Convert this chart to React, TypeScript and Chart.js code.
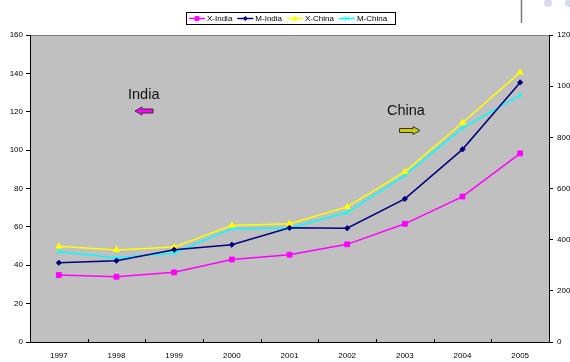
import React, { useEffect, useRef } from "react";
import { Chart, registerables } from "chart.js";

Chart.register(...registerables);

// Years on the category axis
const years = ["1997", "1998", "1999", "2000", "2001", "2002", "2003", "2004", "2005"];

// India series, read against the left axis
const exportsIndia = [34.9, 34.0, 36.3, 43.0, 45.5, 50.9, 61.6, 75.8, 98.3];
const importsIndia = [41.3, 42.4, 48.1, 50.7, 59.5, 59.3, 74.6, 100.4, 135.3];

// China series, read against the right axis
const exportsChina = [374, 360, 371, 455, 462, 528, 665, 857, 1054];
const importsChina = [353, 329, 348, 443, 446, 506, 651, 836, 965];

// Axis ranges
const leftMax = 160;
const leftStep = 20;
const rightMax = 1200;
const rightStep = 200;

const FONT = "'Liberation Sans', Arial, sans-serif";

type Marker = "rect" | "rectRot" | "triangle" | "crossRot";

function drawMarker(ctx: CanvasRenderingContext2D, style: Marker, x: number, y: number, r: number, color: string) {
  ctx.save();
  ctx.fillStyle = color;
  ctx.strokeStyle = color;
  ctx.lineWidth = 1;
  ctx.beginPath();
  if (style === "rect") {
    const s = r * Math.SQRT1_2;
    ctx.rect(x - s, y - s, 2 * s, 2 * s);
    ctx.fill();
  } else if (style === "rectRot") {
    ctx.moveTo(x, y - r);
    ctx.lineTo(x + r, y);
    ctx.lineTo(x, y + r);
    ctx.lineTo(x - r, y);
    ctx.closePath();
    ctx.fill();
  } else if (style === "triangle") {
    ctx.moveTo(x, y - r);
    ctx.lineTo(x + r * 0.95, y + r * 0.6);
    ctx.lineTo(x - r * 0.95, y + r * 0.6);
    ctx.closePath();
    ctx.fill();
  } else {
    const s = r * Math.SQRT1_2;
    ctx.moveTo(x - s, y - s);
    ctx.lineTo(x + s, y + s);
    ctx.moveTo(x + s, y - s);
    ctx.lineTo(x - s, y + s);
    ctx.stroke();
  }
  ctx.restore();
}

const seriesStyle: { label: string; color: string; marker: Marker; radius: number }[] = [
  { label: "X-India", color: "#FF00FF", marker: "rect", radius: 3.4 },
  { label: "M-India", color: "#000080", marker: "rectRot", radius: 2.6 },
  { label: "X-China", color: "#FFFF00", marker: "triangle", radius: 3.4 },
  { label: "M-China", color: "#00FFFF", marker: "crossRot", radius: 3.4 },
];

const decorPlugin = {
  id: "decor",
  beforeDraw(chart: any) {
    const { ctx, chartArea: a, width, height } = chart;
    ctx.save();
    ctx.fillStyle = "#FFFFFF";
    ctx.fillRect(0, 0, width, height);
    ctx.fillStyle = "#C0C0C0";
    ctx.fillRect(a.left, a.top, a.right - a.left, a.bottom - a.top);
    ctx.strokeStyle = "#808080";
    ctx.lineWidth = 1;
    ctx.beginPath();
    ctx.moveTo(a.left, a.top + 0.5);
    ctx.lineTo(a.right, a.top + 0.5);
    ctx.stroke();

    // slide ornaments in the top right corner
    ctx.strokeStyle = "#7A7A7A";
    ctx.lineWidth = 1.5;
    ctx.beginPath();
    ctx.moveTo(521.5, 0);
    ctx.lineTo(521.5, 23);
    ctx.stroke();
    ctx.fillStyle = "#DADAEE";
    ctx.beginPath();
    ctx.arc(548, 3, 4, 0, Math.PI * 2);
    ctx.fill();
    ctx.beginPath();
    ctx.arc(569, 3, 4, 0, Math.PI * 2);
    ctx.fill();
    ctx.restore();
  },
  afterDatasetsDraw(chart: any) {
    const { ctx, chartArea: a } = chart;
    const xs = chart.scales.x;
    const half = (xs.getPixelForValue(1) - xs.getPixelForValue(0)) / 2;
    ctx.save();
    ctx.strokeStyle = "#000";
    ctx.lineWidth = 1;
    ctx.beginPath();
    for (let i = 1; i < years.length; i++) {
      const x = Math.round(xs.getPixelForValue(i) - half) + 0.5;
      ctx.moveTo(x, a.bottom);
      ctx.lineTo(x, a.bottom - 3);
    }
    ctx.stroke();
    ctx.restore();
  },
  afterDraw(chart: any) {
    const { ctx } = chart;
    ctx.save();

    // legend box
    ctx.fillStyle = "#FFFFFF";
    ctx.fillRect(186, 12, 209, 12);
    ctx.strokeStyle = "#000";
    ctx.lineWidth = 1;
    ctx.strokeRect(186.5, 12.5, 209, 12);
    ctx.font = `8px ${FONT}`;
    ctx.textBaseline = "middle";
    let x = 189;
    const ly = 18.5;
    for (const s of seriesStyle) {
      ctx.strokeStyle = s.color;
      ctx.lineWidth = 1.5;
      ctx.beginPath();
      ctx.moveTo(x, ly);
      ctx.lineTo(x + 16, ly);
      ctx.stroke();
      drawMarker(ctx, s.marker, x + 8, ly, s.radius, s.color);
      ctx.fillStyle = "#000";
      ctx.fillText(s.label, x + 18, ly);
      x += 18 + ctx.measureText(s.label).width + 5;
    }

    // country annotations
    ctx.fillStyle = "#111";
    ctx.font = `14.5px ${FONT}`;
    ctx.textBaseline = "alphabetic";
    ctx.fillText("India", 128, 99);
    ctx.fillText("China", 387, 115);

    ctx.lineWidth = 1;
    ctx.strokeStyle = "#333";
    // left arrow
    ctx.fillStyle = "#FF00FF";
    ctx.beginPath();
    ctx.moveTo(135, 111);
    ctx.lineTo(142, 107);
    ctx.lineTo(142, 109);
    ctx.lineTo(153, 109);
    ctx.lineTo(153, 113);
    ctx.lineTo(142, 113);
    ctx.lineTo(142, 115);
    ctx.closePath();
    ctx.fill();
    ctx.stroke();
    // right arrow
    ctx.fillStyle = "#CCCC00";
    ctx.beginPath();
    ctx.moveTo(420, 130.5);
    ctx.lineTo(413, 126.5);
    ctx.lineTo(413, 128.5);
    ctx.lineTo(399.5, 128.5);
    ctx.lineTo(399.5, 132.5);
    ctx.lineTo(413, 132.5);
    ctx.lineTo(413, 134.5);
    ctx.closePath();
    ctx.fill();
    ctx.stroke();
    ctx.restore();
  },
};

export default function App() {
  const ref = useRef<HTMLCanvasElement>(null);

  useEffect(() => {
    if (!ref.current) return;
    const values = [exportsIndia, importsIndia, exportsChina, importsChina];
    const axes = ["y", "y", "y1", "y1"];
    const plain = (v: any) => String(v);
    const chart = new Chart(ref.current, {
      type: "line",
      data: {
        labels: years,
        datasets: seriesStyle.map((s, i) => ({
          label: s.label,
          data: values[i],
          yAxisID: axes[i],
          borderColor: s.color,
          backgroundColor: s.color,
          borderWidth: 1.5,
          pointStyle: s.marker,
          pointRadius: s.radius,
          pointBorderWidth: 1,
          pointBorderColor: s.color,
          pointBackgroundColor: s.color,
          tension: 0,
          fill: false,
        })),
      },
      options: {
        animation: false,
        responsive: false,
        maintainAspectRatio: false,
        layout: { padding: { top: 35, left: 0, right: 0, bottom: 0 } },
        plugins: {
          legend: { display: false },
          title: { display: false },
          tooltip: { enabled: false },
        },
        scales: {
          x: {
            type: "category",
            offset: true,
            grid: { display: false, drawTicks: false },
            border: { display: true, color: "#000", width: 1 },
            ticks: { color: "#000", font: { size: 8, family: FONT }, padding: 9, maxRotation: 0, autoSkip: false },
            afterFit: (s: any) => {
              s.height = 20;
            },
          },
          y: {
            position: "left",
            min: 0,
            max: leftMax,
            ticks: { stepSize: leftStep, color: "#000", font: { size: 8, family: FONT }, padding: 3, callback: plain },
            grid: { drawOnChartArea: false, drawTicks: true, tickLength: 4, color: "#000" },
            border: { display: true, color: "#000", width: 1 },
            afterFit: (s: any) => {
              s.width = 30;
            },
          },
          y1: {
            position: "right",
            min: 0,
            max: rightMax,
            ticks: { stepSize: rightStep, color: "#000", font: { size: 8, family: FONT }, padding: 4, callback: plain },
            grid: { drawOnChartArea: false, drawTicks: true, tickLength: 4, color: "#000" },
            border: { display: true, color: "#000", width: 1 },
            afterFit: (s: any) => {
              s.width = 21;
            },
          },
        },
      },
      plugins: [decorPlugin],
    });
    return () => chart.destroy();
  }, []);

  return (
    <div style={{ position: "fixed", left: 0, top: 0, width: 570, height: 362, background: "#fff" }}>
      <canvas ref={ref} width={570} height={362} style={{ display: "block", width: 570, height: 362 }} />
    </div>
  );
}
